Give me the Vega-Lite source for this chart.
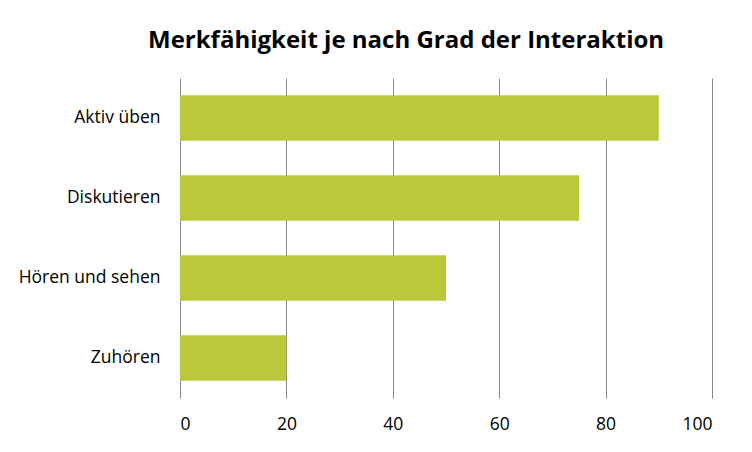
{
  "$schema": "https://vega.github.io/schema/vega-lite/v6.json",
  "width": 532,
  "height": 320,
  "autosize": "none",
  "padding": {"left": 180, "top": 78, "right": 40, "bottom": 54},
  "background": "#ffffff",
  "config": {
    "view": {"stroke": null},
    "font": "Open Sans"
  },
  "title": {
    "text": "Merkfähigkeit je nach Grad der Interaktion",
    "anchor": "start",
    "frame": "group",
    "dx": -32,
    "offset": 25,
    "fontSize": 24,
    "fontWeight": "bold",
    "font": "Open Sans",
    "color": "#000000"
  },
  "data": {
    "values": [
      {"Methode": "Aktiv üben", "Wert": 90},
      {"Methode": "Diskutieren", "Wert": 75},
      {"Methode": "Hören und sehen", "Wert": 50},
      {"Methode": "Zuhören", "Wert": 20}
    ]
  },
  "mark": {"type": "bar", "color": "#bcc83b"},
  "encoding": {
    "y": {
      "field": "Methode",
      "type": "nominal",
      "sort": ["Aktiv üben", "Diskutieren", "Hören und sehen", "Zuhören"],
      "title": null,
      "scale": {"paddingInner": 0.43, "paddingOuter": 0.215},
      "axis": {
        "domain": false,
        "ticks": false,
        "labelPadding": 20,
        "labelFontSize": 17.5,
        "labelColor": "#000000",
        "labelFont": "Open Sans"
      }
    },
    "x": {
      "field": "Wert",
      "type": "quantitative",
      "title": null,
      "scale": {"domain": [0, 100], "nice": false},
      "axis": {
        "values": [0, 20, 40, 60, 80, 100],
        "domain": false,
        "ticks": false,
        "grid": true,
        "gridColor": "#868686",
        "gridWidth": 1,
        "gridOpacity": 1,
        "labelPadding": 17,
        "labelFontSize": 17.5,
        "labelColor": "#000000",
        "labelFont": "Open Sans"
      }
    }
  }
}
